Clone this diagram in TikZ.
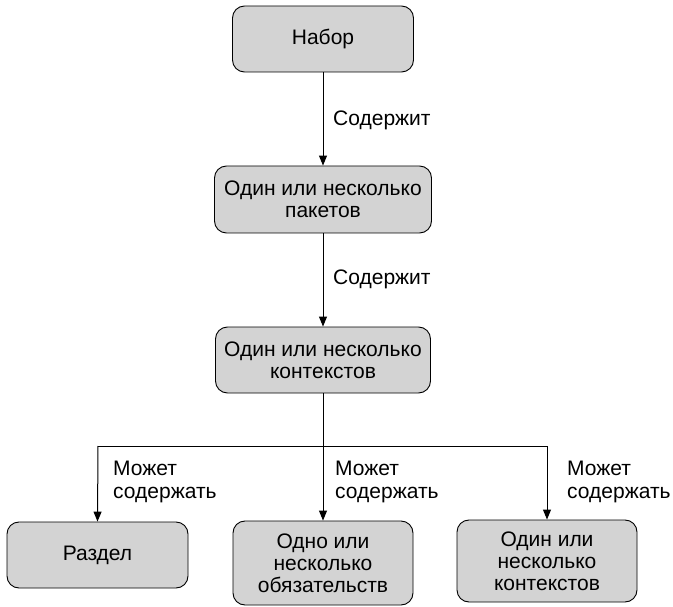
\documentclass[tikz,border=0pt]{standalone}
\usepackage{fontspec}
\setmainfont{Liberation Sans}
\usetikzlibrary{arrows.meta}
\definecolor{boxgray}{RGB}{211,211,211}
\tikzstyle{blok} = [draw=black, fill=boxgray, rounded corners=12pt, line width=0.9pt, align=center, inner sep=0pt, font=\fontsize{21}{22}\selectfont]
\tikzstyle{metka} = [inner sep=0pt, align=left, font=\fontsize{21}{23}\selectfont]
\tikzstyle{arrow} = [line width=1pt, -{Triangle[length=10pt,width=8pt]}]

\begin{document}
\begin{tikzpicture}[x=1pt,y=1pt]
            \useasboundingbox (0,0) rectangle (673,-607);
            \node [blok, minimum width=181pt, minimum height=66pt] (nabor) at (323,-39) {Набор};
            \node [blok, minimum width=217pt, minimum height=67pt] (pakety) at (323,-199.5) {Один или несколько\\пакетов};
            \node [blok, minimum width=215pt, minimum height=66pt] (kont) at (323,-360) {Один или несколько\\контекстов};
            \node [blok, minimum width=181pt, minimum height=66pt] (razdel) at (97.5,-555) {Раздел};
            \node [blok, minimum width=180pt, minimum height=84pt] (obyaz) at (323,-563) {Одно или\\несколько\\обязательств};
            \node [blok, minimum width=180pt, minimum height=82pt] (kont2) at (547,-561) {Один или\\несколько\\контекстов};
            \draw [arrow] (nabor) -- (pakety);
            \node [metka, anchor=base west] (sod1) at (333,-126) {Содержит};
            \draw [arrow] (pakety) -- (kont);
            \node [metka, anchor=base west] (sod2) at (333,-285) {Содержит};
            % shina
            \coordinate (bus) at (323,-446);
            \coordinate (busL) at (98,-446);
            \coordinate (busR) at (547,-446);
            \draw [line width=1pt] (kont.south) -- (bus);
            \draw [line width=1pt] (busL) -- (busR);
            \draw [arrow] (busL) -- (razdel.north);
            \draw [arrow] (bus) -- (obyaz.north);
            \draw [arrow] (busR) -- (kont2.north);
            \node [metka, anchor=north west] (mozh1) at (113,-461) {Может\\содержать};
            \node [metka, anchor=north west] (mozh2) at (335,-461) {Может\\содержать};
            \node [metka, anchor=north west] (mozh3) at (567,-461) {Может\\содержать};
\end{tikzpicture}
\end{document}
